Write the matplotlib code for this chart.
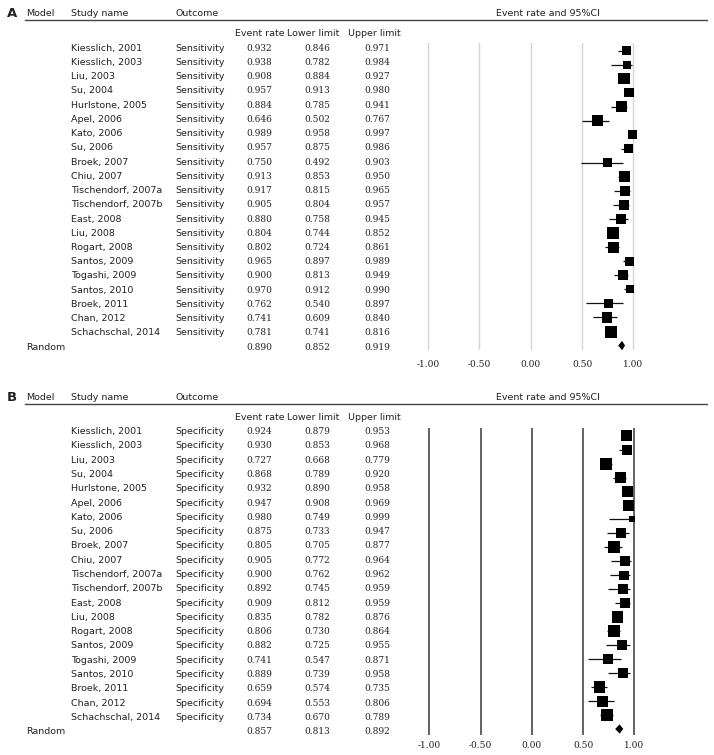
import matplotlib
matplotlib.use("Agg")
import matplotlib.pyplot as plt
from matplotlib.lines import Line2D

studies = ["Kiesslich, 2001", "Kiesslich, 2003", "Liu, 2003", "Su, 2004", "Hurlstone, 2005",
           "Apel, 2006", "Kato, 2006", "Su, 2006", "Broek, 2007", "Chiu, 2007",
           "Tischendorf, 2007a", "Tischendorf, 2007b", "East, 2008", "Liu, 2008", "Rogart, 2008",
           "Santos, 2009", "Togashi, 2009", "Santos, 2010", "Broek, 2011", "Chan, 2012",
           "Schachschal, 2014"]

# sensitivity
sens_rate = [0.932, 0.938, 0.908, 0.957, 0.884, 0.646, 0.989, 0.957, 0.750, 0.913, 0.917,
             0.905, 0.880, 0.804, 0.802, 0.965, 0.900, 0.970, 0.762, 0.741, 0.781]
sens_low = [0.846, 0.782, 0.884, 0.913, 0.785, 0.502, 0.958, 0.875, 0.492, 0.853, 0.815,
            0.804, 0.758, 0.744, 0.724, 0.897, 0.813, 0.912, 0.540, 0.609, 0.741]
sens_up = [0.971, 0.984, 0.927, 0.980, 0.941, 0.767, 0.997, 0.986, 0.903, 0.950, 0.965,
           0.957, 0.945, 0.852, 0.861, 0.989, 0.949, 0.990, 0.897, 0.840, 0.816]
sens_pooled = [0.890, 0.852, 0.919]
sens_weight = [9.5, 8, 11.5, 9.5, 10.5, 11, 9, 9, 9, 11, 10, 10, 10, 11.5, 11, 9, 10, 8, 9, 10.5, 12]

# specificity
spec_rate = [0.924, 0.930, 0.727, 0.868, 0.932, 0.947, 0.980, 0.875, 0.805, 0.905, 0.900,
             0.892, 0.909, 0.835, 0.806, 0.882, 0.741, 0.889, 0.659, 0.694, 0.734]
spec_low = [0.879, 0.853, 0.668, 0.789, 0.890, 0.908, 0.749, 0.733, 0.705, 0.772, 0.762,
            0.745, 0.812, 0.782, 0.730, 0.725, 0.547, 0.739, 0.574, 0.553, 0.670]
spec_up = [0.953, 0.968, 0.779, 0.920, 0.958, 0.969, 0.999, 0.947, 0.877, 0.964, 0.962,
           0.959, 0.959, 0.876, 0.864, 0.955, 0.871, 0.958, 0.735, 0.806, 0.789]
spec_pooled = [0.857, 0.813, 0.892]
spec_weight = [11, 10, 12, 11, 11, 11, 6, 10, 12, 10, 9.5, 10, 10, 11.5, 12, 9.5, 10, 9.5, 11.5, 11, 11.7]

ticks = [-1.0, -0.5, 0.0, 0.5, 1.0]
tick_labels = ["-1.00", "-0.50", "0.00", "0.50", "1.00"]

W, H = 714, 755
fig = plt.figure(figsize=(W / 100, H / 100), dpi=100)

sans = "DejaVu Sans"
serif = "DejaVu Serif"
fs = 6.8
fn = 6.5


def put(x, y, s, **kw):
    kw.setdefault("fontsize", fs)
    kw.setdefault("family", sans)
    kw.setdefault("va", "center")
    fig.text(x / W, 1 - y / H, s, color="#222222", **kw)


def panel(letter, outcome, rate, low, up, pooled, weight, top, row0, step, ax_top, ax_bot,
          grid_color, grid_lw, x0, xscale, tick_pad):
    put(12, top, letter, fontsize=9.5, weight="bold", ha="center", family=sans)
    put(26, top, "Model")
    put(71, top, "Study name")
    put(175, top, "Outcome")
    put(548, top, "Event rate and 95%CI", ha="center")
    fig.add_artist(Line2D([25 / W, 707 / W], [1 - (top + 6.5) / H] * 2, color="#444444", lw=1))
    hy = top + 20.5
    put(260, hy, "Event rate", ha="center")
    put(313, hy, "Lower limit", ha="center")
    put(374, hy, "Upper limit", ha="center")
    for i, name in enumerate(studies):
        y = row0 + step * i
        put(71, y, name)
        put(175, y, outcome)
        put(259.5, y, "%.3f" % rate[i], ha="center", family=serif, fontsize=fn)
        put(317, y, "%.3f" % low[i], ha="center", family=serif, fontsize=fn)
        put(377, y, "%.3f" % up[i], ha="center", family=serif, fontsize=fn)
    y = row0 + step * len(studies)
    put(26, y, "Random")
    put(259.5, y, "%.3f" % pooled[0], ha="center", family=serif, fontsize=fn)
    put(317, y, "%.3f" % pooled[1], ha="center", family=serif, fontsize=fn)
    put(377, y, "%.3f" % pooled[2], ha="center", family=serif, fontsize=fn)

    # forest part
    left, right = 400, 706
    ax = fig.add_axes([left / W, 1 - ax_bot / H, (right - left) / W, (ax_bot - ax_top) / H])
    ax.set_xlim((left - x0) / xscale, (right - x0) / xscale)
    rstep = (ax_bot - ax_top)
    ax.set_ylim(ax_bot_row[letter], ax_top_row[letter])
    for t in ticks:
        ax.axvline(t, color=grid_color, lw=grid_lw, zorder=0)
    rows = list(range(len(studies)))
    ax.hlines(rows, low, up, color="#111111", lw=0.9, zorder=1)
    ax.scatter(rate, rows, marker="s", s=[(w * 0.72) ** 2 for w in weight],
               color="black", linewidths=0, zorder=2)
    r = len(studies)
    ax.fill([pooled[1], pooled[0], pooled[2], pooled[0]], [r, r - 0.33, r, r + 0.33],
            color="black", lw=0, zorder=2)
    ax.set_xticks(ticks)
    ax.set_xticklabels(tick_labels, family=serif, fontsize=fn, color="#222222")
    ax.tick_params(axis="x", length=0, pad=tick_pad)
    ax.set_yticks([])
    for s in ax.spines.values():
        s.set_visible(False)
    ax.patch.set_alpha(0)
    return ax


# row mapping of the forest axes (row 0 and row 20 pixel centres)
ax_top_row = {}
ax_bot_row = {}
for letter, p0, p20, t, b in [("A", 50.5, 331.5, 43, 350), ("B", 435.7, 715.0, 428, 735)]:
    st = (p20 - p0) / 20
    ax_top_row[letter] = (t - p0) / st
    ax_bot_row[letter] = (b - p0) / st

panel("A", "Sensitivity", sens_rate, sens_low, sens_up, sens_pooled, sens_weight,
      13.5, 48.3, 14.23, 43, 350, "#d6d6d6", 1.0, 530.7, 102.65, 7.5)
panel("B", "Specificity", spec_rate, spec_low, spec_up, spec_pooled, spec_weight,
      397.5, 431.7, 14.28, 428, 735, "#555555", 1.3, 531.8, 102.5, 4.2)

fig.savefig("out.png", dpi=100)
